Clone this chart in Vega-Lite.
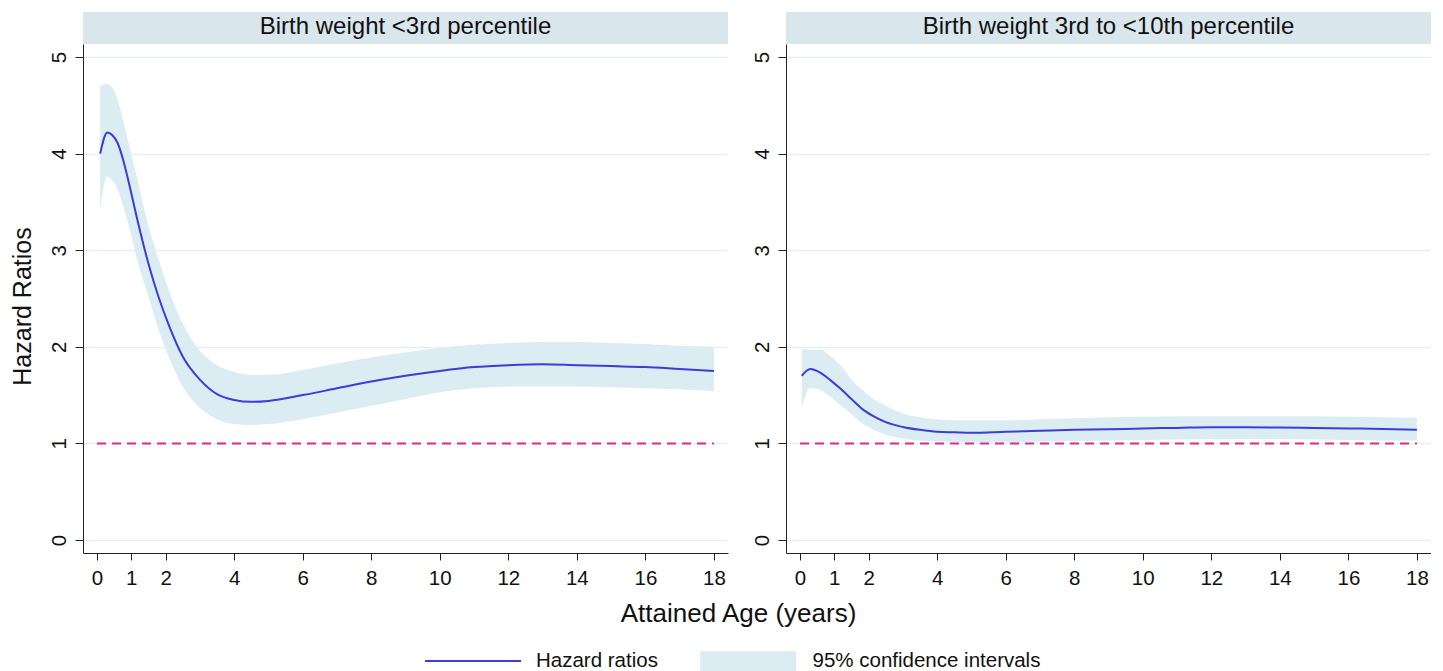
{
  "$schema": "https://vega.github.io/schema/vega-lite/v6.json",
  "autosize": {"type": "pad"},
  "padding": {"left": 10, "top": 12, "right": 0, "bottom": 0},
  "background": "white",
  "spacing": 0,
  "config": {
    "font": "Liberation Sans",
    "view": {"stroke": null},
    "axis": {
      "domainColor": "#222", "domainWidth": 1, "tickColor": "#222", "tickWidth": 1,
      "labelFontSize": 20.5, "labelColor": "#111", "labelFont": "Liberation Sans",
      "titleFontSize": 25, "titleFontWeight": "normal", "titleColor": "#111", "titleFont": "Liberation Sans",
      "grid": false
    },
    "axisY": {
      "grid": true, "gridColor": "#e6eef1", "gridWidth": 1.5,
      "labelAngle": -90, "labelAlign": "center", "labelBaseline": "alphabetic", "labelPadding": 10, "tickSize": 8
    },
    "axisX": {"tickSize": 7, "labelPadding": 24, "labelBaseline": "alphabetic"},
    "legend": {"labelFont": "Liberation Sans", "labelFontSize": 20.5, "labelColor": "#111", "padding": 0, "labelLimit": 0}
  },
  "datasets": {
    "headers": [
      {"panel": "lt3", "label": "Birth weight <3rd percentile"},
      {"panel": "3to10", "label": "Birth weight 3rd to <10th percentile"}
    ],
    "ref": [{"x0": 0, "x1": 18, "y": 1}],
    "curves": [
      {"panel": "lt3", "t": 0.09, "est": 4.00, "lo": 3.43, "hi": 4.70},
      {"panel": "lt3", "t": 0.3, "est": 4.22, "lo": 3.76, "hi": 4.72},
      {"panel": "lt3", "t": 0.45, "est": 4.19, "lo": 3.72, "hi": 4.68},
      {"panel": "lt3", "t": 0.6, "est": 4.11, "lo": 3.63, "hi": 4.56},
      {"panel": "lt3", "t": 0.75, "est": 3.95, "lo": 3.47, "hi": 4.36},
      {"panel": "lt3", "t": 0.9, "est": 3.74, "lo": 3.29, "hi": 4.14},
      {"panel": "lt3", "t": 1.2, "est": 3.28, "lo": 2.86, "hi": 3.70},
      {"panel": "lt3", "t": 1.5, "est": 2.86, "lo": 2.52, "hi": 3.25},
      {"panel": "lt3", "t": 1.8, "est": 2.51, "lo": 2.17, "hi": 2.90},
      {"panel": "lt3", "t": 2.1, "est": 2.22, "lo": 1.89, "hi": 2.58},
      {"panel": "lt3", "t": 2.5, "est": 1.90, "lo": 1.59, "hi": 2.24},
      {"panel": "lt3", "t": 3.0, "est": 1.66, "lo": 1.37, "hi": 1.96},
      {"panel": "lt3", "t": 3.5, "est": 1.51, "lo": 1.25, "hi": 1.81},
      {"panel": "lt3", "t": 4.0, "est": 1.45, "lo": 1.20, "hi": 1.74},
      {"panel": "lt3", "t": 4.5, "est": 1.43, "lo": 1.19, "hi": 1.71},
      {"panel": "lt3", "t": 5.0, "est": 1.44, "lo": 1.20, "hi": 1.71},
      {"panel": "lt3", "t": 6.0, "est": 1.50, "lo": 1.25, "hi": 1.76},
      {"panel": "lt3", "t": 7.0, "est": 1.57, "lo": 1.32, "hi": 1.83},
      {"panel": "lt3", "t": 8.0, "est": 1.64, "lo": 1.39, "hi": 1.89},
      {"panel": "lt3", "t": 9.0, "est": 1.70, "lo": 1.46, "hi": 1.94},
      {"panel": "lt3", "t": 10.0, "est": 1.75, "lo": 1.53, "hi": 1.99},
      {"panel": "lt3", "t": 11.0, "est": 1.79, "lo": 1.57, "hi": 2.02},
      {"panel": "lt3", "t": 12.0, "est": 1.81, "lo": 1.59, "hi": 2.04},
      {"panel": "lt3", "t": 13.0, "est": 1.82, "lo": 1.59, "hi": 2.05},
      {"panel": "lt3", "t": 14.0, "est": 1.81, "lo": 1.59, "hi": 2.05},
      {"panel": "lt3", "t": 15.0, "est": 1.80, "lo": 1.58, "hi": 2.04},
      {"panel": "lt3", "t": 16.0, "est": 1.79, "lo": 1.57, "hi": 2.03},
      {"panel": "lt3", "t": 17.0, "est": 1.77, "lo": 1.56, "hi": 2.01},
      {"panel": "lt3", "t": 18.0, "est": 1.75, "lo": 1.54, "hi": 2.00},
      {"panel": "3to10", "t": 0.05, "est": 1.70, "lo": 1.38, "hi": 1.98},
      {"panel": "3to10", "t": 0.3, "est": 1.77, "lo": 1.57, "hi": 1.97},
      {"panel": "3to10", "t": 0.6, "est": 1.73, "lo": 1.55, "hi": 1.97},
      {"panel": "3to10", "t": 0.9, "est": 1.65, "lo": 1.48, "hi": 1.90},
      {"panel": "3to10", "t": 1.2, "est": 1.56, "lo": 1.39, "hi": 1.80},
      {"panel": "3to10", "t": 1.5, "est": 1.46, "lo": 1.30, "hi": 1.66},
      {"panel": "3to10", "t": 1.8, "est": 1.36, "lo": 1.21, "hi": 1.56},
      {"panel": "3to10", "t": 2.1, "est": 1.29, "lo": 1.15, "hi": 1.47},
      {"panel": "3to10", "t": 2.5, "est": 1.22, "lo": 1.09, "hi": 1.39},
      {"panel": "3to10", "t": 3.0, "est": 1.17, "lo": 1.05, "hi": 1.31},
      {"panel": "3to10", "t": 3.5, "est": 1.14, "lo": 1.03, "hi": 1.27},
      {"panel": "3to10", "t": 4.0, "est": 1.12, "lo": 1.02, "hi": 1.25},
      {"panel": "3to10", "t": 4.5, "est": 1.115, "lo": 1.015, "hi": 1.24},
      {"panel": "3to10", "t": 5.0, "est": 1.11, "lo": 1.01, "hi": 1.24},
      {"panel": "3to10", "t": 6.0, "est": 1.12, "lo": 1.01, "hi": 1.24},
      {"panel": "3to10", "t": 7.0, "est": 1.13, "lo": 1.02, "hi": 1.25},
      {"panel": "3to10", "t": 8.0, "est": 1.14, "lo": 1.025, "hi": 1.26},
      {"panel": "3to10", "t": 9.0, "est": 1.145, "lo": 1.03, "hi": 1.27},
      {"panel": "3to10", "t": 10.0, "est": 1.155, "lo": 1.035, "hi": 1.275},
      {"panel": "3to10", "t": 11.0, "est": 1.16, "lo": 1.04, "hi": 1.28},
      {"panel": "3to10", "t": 12.0, "est": 1.167, "lo": 1.045, "hi": 1.28},
      {"panel": "3to10", "t": 13.0, "est": 1.167, "lo": 1.045, "hi": 1.28},
      {"panel": "3to10", "t": 14.0, "est": 1.165, "lo": 1.045, "hi": 1.28},
      {"panel": "3to10", "t": 15.0, "est": 1.16, "lo": 1.04, "hi": 1.28},
      {"panel": "3to10", "t": 16.0, "est": 1.155, "lo": 1.035, "hi": 1.275},
      {"panel": "3to10", "t": 17.0, "est": 1.15, "lo": 1.03, "hi": 1.27},
      {"panel": "3to10", "t": 18.0, "est": 1.14, "lo": 1.03, "hi": 1.265}
    ]
  },
  "vconcat": [
    {
      "bounds": "flush",
      "spacing": 58,
      "hconcat": [
        {
          "data": {"name": "headers"},
          "transform": [{"filter": "datum.panel === 'lt3'"}],
          "width": 645, "height": 32,
          "view": {"fill": "#d9e6ec", "stroke": null},
          "mark": {"type": "text", "fontSize": 24, "color": "#111", "baseline": "middle", "align": "center", "dy": -1},
          "encoding": {"text": {"field": "label", "type": "nominal"}}
        },
        {
          "data": {"name": "headers"},
          "transform": [{"filter": "datum.panel === '3to10'"}],
          "width": 645, "height": 32,
          "view": {"fill": "#d9e6ec", "stroke": null},
          "mark": {"type": "text", "fontSize": 24, "color": "#111", "baseline": "middle", "align": "center", "dy": -1},
          "encoding": {"text": {"field": "label", "type": "nominal"}}
        }
      ]
    },
    {
      "bounds": "flush",
      "spacing": 58,
      "hconcat": [
        {
          "width": 645, "height": 509,
          "layer": [
            {
              "data": {"name": "curves"},
              "transform": [{"filter": "datum.panel === 'lt3'"}],
              "mark": {"type": "area", "interpolate": "monotone"},
              "encoding": {
                "x": {"field": "t", "type": "quantitative", "scale": {"domain": [-0.41, 18.41], "nice": false, "zero": false},
                      "axis": {"values": [0,1,2,4,6,8,10,12,14,16,18], "title": "Attained Age (years)", "titleFontSize": 26, "titleX": 655, "titleY": 68, "titleAlign": "center", "titleBaseline": "alphabetic"}},
                "y": {"field": "lo", "type": "quantitative", "scale": {"domain": [-0.135, 5.135], "nice": false, "zero": false},
                      "axis": {"values": [0,1,2,3,4,5], "format": "d", "title": "Hazard Ratios", "titleAngle": -90, "titleX": -61, "titleY": 262, "titleAlign": "center", "titleBaseline": "middle"}},
                "y2": {"field": "hi"},
                "fill": {"datum": "95% confidence intervals", "type": "nominal", "scale": {"range": ["#dcecf3"]},
                         "legend": {"title": null, "orient": "none", "legendX": 617, "legendY": 639, "symbolType": "M-4.8,-1H4.8V1H-4.8Z", "symbolSize": 400, "symbolStrokeWidth": 0, "symbolOffset": 38, "labelOffset": 54, "symbolOpacity": 1}}
              }
            },
            {
              "data": {"name": "ref"},
              "mark": {"type": "rule", "color": "#e02a85", "strokeWidth": 2, "strokeDash": [9, 6]},
              "encoding": {
                "x": {"field": "x0", "type": "quantitative", "title": "Attained Age (years)"},
                "x2": {"field": "x1"},
                "y": {"field": "y", "type": "quantitative", "title": "Hazard Ratios"}
              }
            },
            {
              "data": {"name": "curves"},
              "transform": [{"filter": "datum.panel === 'lt3'"}],
              "mark": {"type": "line", "interpolate": "monotone", "strokeWidth": 2},
              "encoding": {
                "x": {"field": "t", "type": "quantitative", "title": "Attained Age (years)"},
                "y": {"field": "est", "type": "quantitative", "title": "Hazard Ratios"},
                "stroke": {"datum": "Hazard ratios", "type": "nominal", "scale": {"range": ["#3c3cd8"]},
                           "legend": {"title": null, "orient": "none", "legendX": 342, "legendY": 638, "symbolType": "M-4.8,0H4.8", "symbolSize": 400, "symbolStrokeWidth": 2, "symbolOffset": 37, "labelOffset": 52}}
              }
            }
          ]
        },
        {
          "width": 645, "height": 509,
          "layer": [
            {
              "data": {"name": "curves"},
              "transform": [{"filter": "datum.panel === '3to10'"}],
              "mark": {"type": "area", "interpolate": "monotone"},
              "encoding": {
                "x": {"field": "t", "type": "quantitative", "scale": {"domain": [-0.41, 18.41], "nice": false, "zero": false},
                      "axis": {"values": [0,1,2,4,6,8,10,12,14,16,18], "title": null}},
                "y": {"field": "lo", "type": "quantitative", "scale": {"domain": [-0.135, 5.135], "nice": false, "zero": false},
                      "axis": {"values": [0,1,2,3,4,5], "format": "d", "title": null}},
                "y2": {"field": "hi"},
                "fill": {"datum": "95% confidence intervals", "type": "nominal", "scale": {"range": ["#dcecf3"]},
                         "legend": {"title": null, "orient": "none", "legendX": 617, "legendY": 639, "symbolType": "M-4.8,-1H4.8V1H-4.8Z", "symbolSize": 400, "symbolStrokeWidth": 0, "symbolOffset": 38, "labelOffset": 54, "symbolOpacity": 1}}
              }
            },
            {
              "data": {"name": "ref"},
              "mark": {"type": "rule", "color": "#e02a85", "strokeWidth": 2, "strokeDash": [9, 6]},
              "encoding": {
                "x": {"field": "x0", "type": "quantitative", "title": null},
                "x2": {"field": "x1"},
                "y": {"field": "y", "type": "quantitative", "title": null}
              }
            },
            {
              "data": {"name": "curves"},
              "transform": [{"filter": "datum.panel === '3to10'"}],
              "mark": {"type": "line", "interpolate": "monotone", "strokeWidth": 2},
              "encoding": {
                "x": {"field": "t", "type": "quantitative", "title": null},
                "y": {"field": "est", "type": "quantitative", "title": null},
                "stroke": {"datum": "Hazard ratios", "type": "nominal", "scale": {"range": ["#3c3cd8"]},
                           "legend": {"title": null, "orient": "none", "legendX": 342, "legendY": 638, "symbolType": "M-4.8,0H4.8", "symbolSize": 400, "symbolStrokeWidth": 2, "symbolOffset": 37, "labelOffset": 52}}
              }
            }
          ]
        }
      ]
    }
  ]
}
